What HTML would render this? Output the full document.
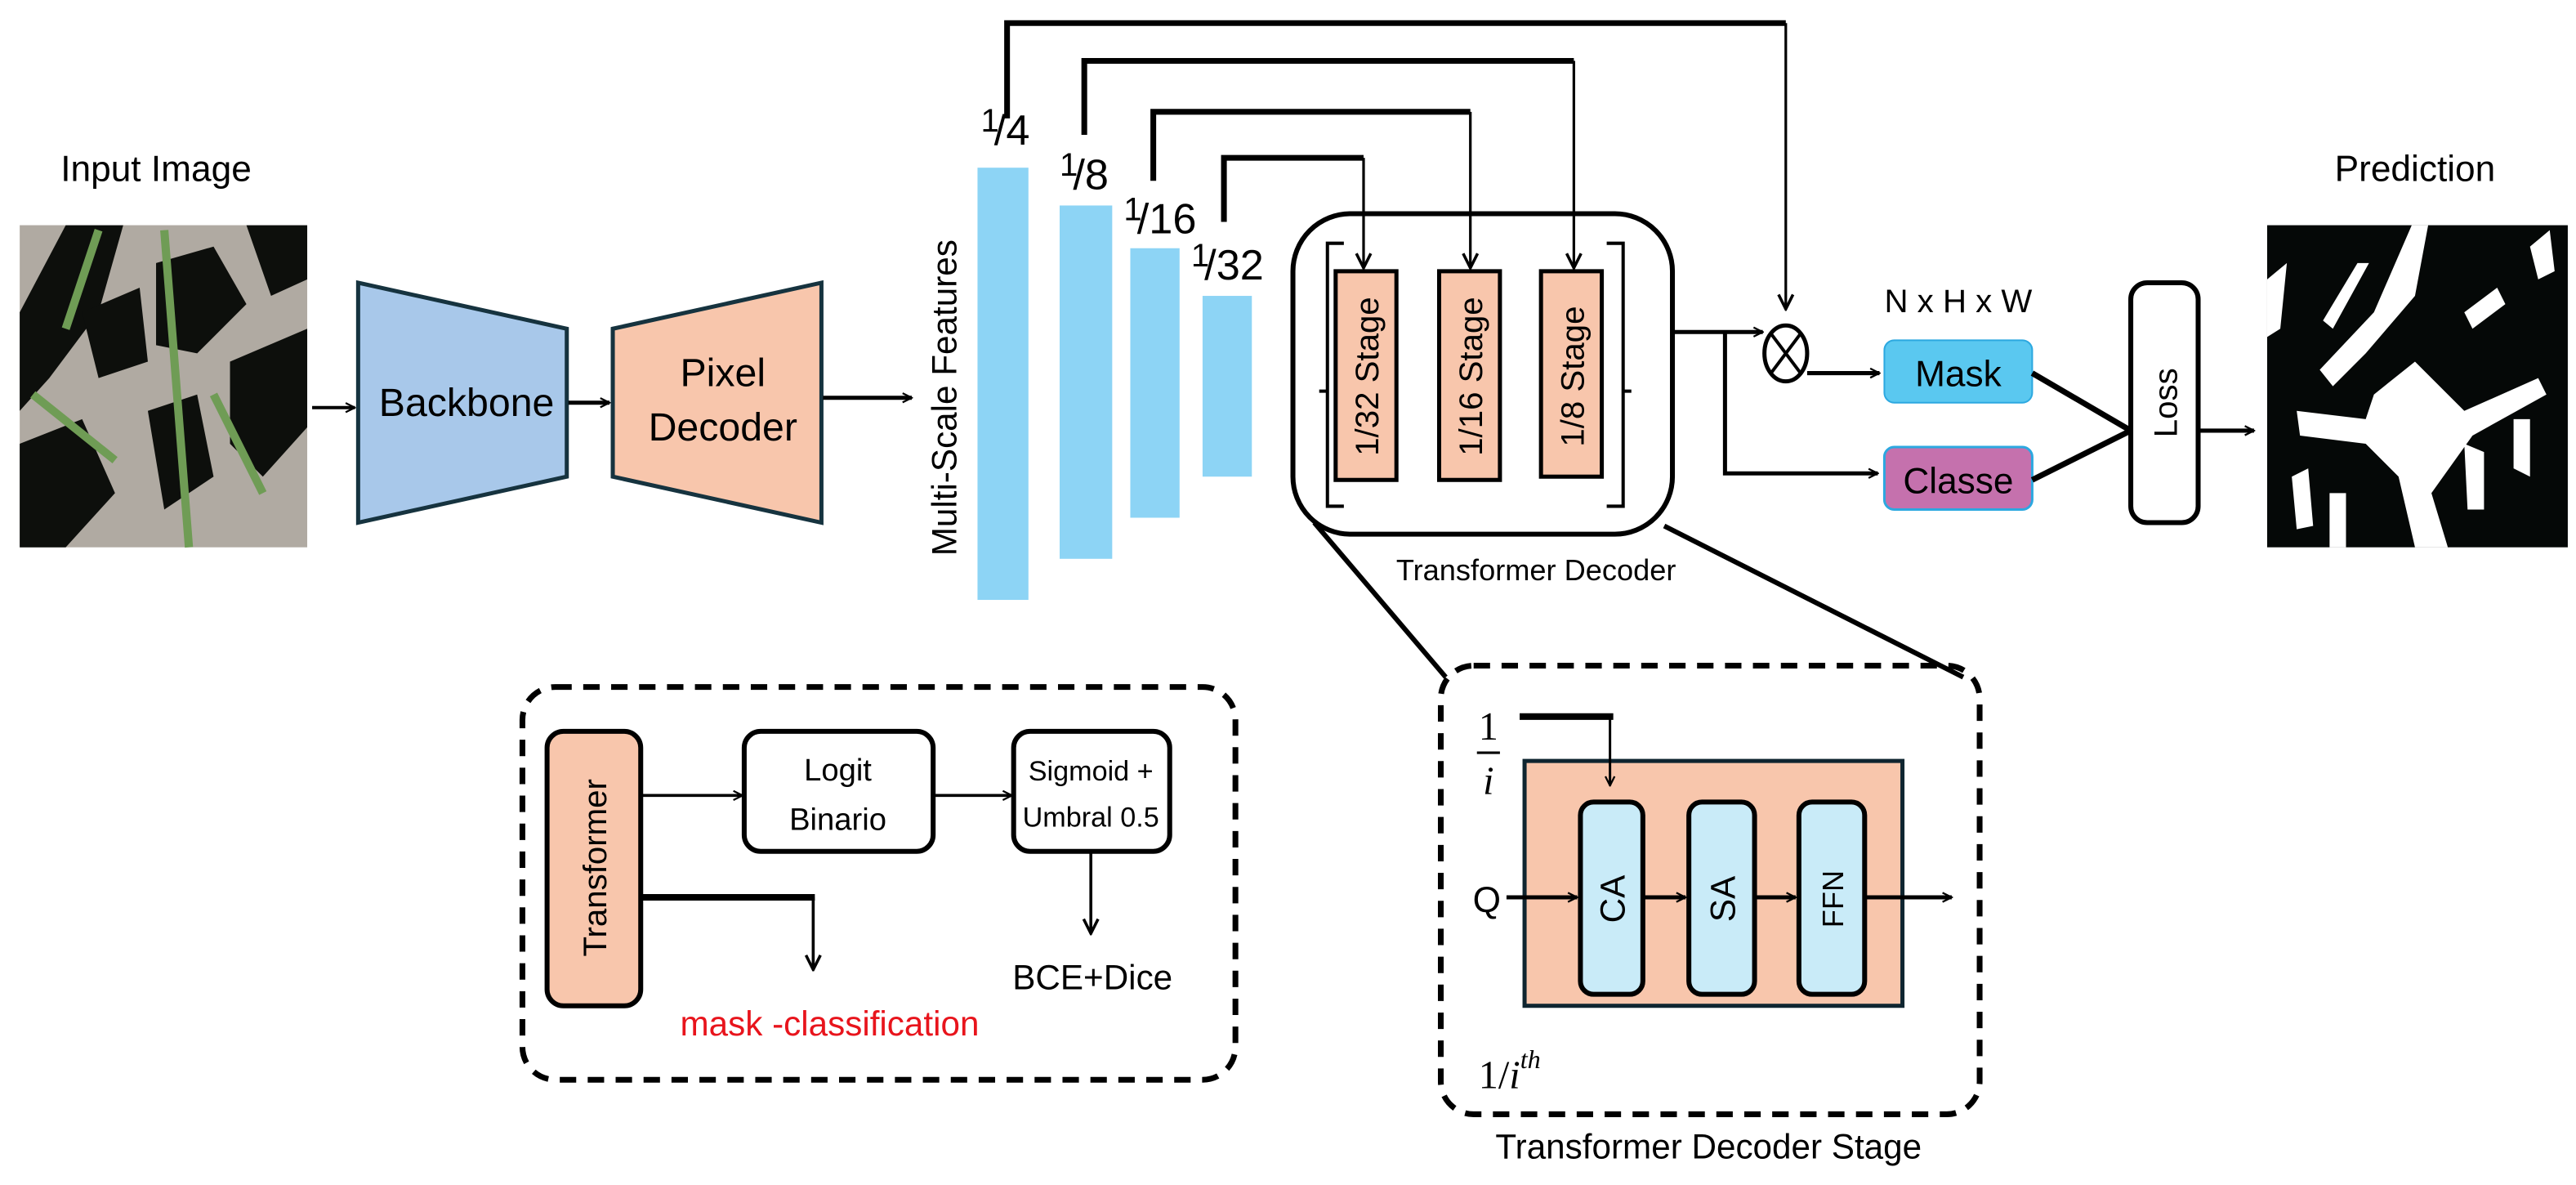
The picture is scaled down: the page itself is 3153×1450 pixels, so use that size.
<!DOCTYPE html>
<html><head><meta charset="utf-8"><style>
html,body{margin:0;padding:0;background:#fff;}
svg{display:block;}
text{font-family:"Liberation Sans Narrow","Liberation Sans",sans-serif;fill:#000;}
.w{font-family:"Liberation Sans",sans-serif;}
</style></head><body>
<svg width="3153" height="1450" viewBox="0 0 1568 721" xmlns="http://www.w3.org/2000/svg">
<defs>
<marker id="a" viewBox="0 0 10 10" refX="9" refY="5" markerWidth="7" markerHeight="7" orient="auto-start-reverse" markerUnits="userSpaceOnUse"><path d="M1,1 L9,5 L1,9" fill="none" stroke="#000" stroke-width="1.6"/></marker>
<marker id="b" viewBox="0 0 10 10" refX="9" refY="5" markerWidth="11" markerHeight="11" orient="auto-start-reverse" markerUnits="userSpaceOnUse"><path d="M1,1 L9,5 L1,9" fill="none" stroke="#000" stroke-width="1.6"/></marker>
</defs>

<!-- Input image -->
<text x="95" y="110" font-size="22" text-anchor="middle">Input Image</text>
<rect x="12" y="137" width="175" height="196" fill="#b0aaa2"/>
<g fill="#0d0f0c">
<path d="M40,137 L75,137 L60,190 L30,230 L12,250 L12,190 Z"/>
<path d="M95,160 L130,150 L150,185 L120,215 L95,210 Z"/>
<path d="M140,220 L187,200 L187,260 L160,290 L140,270 Z"/>
<path d="M12,270 L50,255 L70,300 L40,333 L12,333 Z"/>
<path d="M90,250 L120,240 L130,290 L100,310 Z"/>
<path d="M150,137 L187,137 L187,170 L165,180 Z"/>
<path d="M50,190 L85,175 L90,220 L60,230 Z"/>
</g>
<g stroke="#6f9c55" stroke-width="5" fill="none">
<path d="M100,140 L115,333"/><path d="M20,240 L70,280"/><path d="M130,240 L160,300"/><path d="M60,140 L40,200"/>
</g>

<!-- Backbone -->
<path d="M218,172 L345,200 L345,290 L218,318 Z" fill="#a8c8ea" stroke="#16333f" stroke-width="2.5"/>
<text x="284" y="253" font-size="24" text-anchor="middle">Backbone</text>
<path d="M373,200 L500,172 L500,318 L373,290 Z" fill="#f8c6ac" stroke="#16333f" stroke-width="2.5"/>
<text x="440" y="235" font-size="24" text-anchor="middle">Pixel</text>
<text x="440" y="268" font-size="24" text-anchor="middle">Decoder</text>
<line x1="190" y1="248" x2="216" y2="248" stroke="#000" stroke-width="2" marker-end="url(#a)"/>
<line x1="346" y1="245" x2="371" y2="245" stroke="#000" stroke-width="2.5" marker-end="url(#a)"/>
<line x1="501" y1="242" x2="555" y2="242" stroke="#000" stroke-width="2.5" marker-end="url(#a)"/>

<!-- Multi-scale -->
<text class="w" transform="translate(582,242) rotate(-90)" font-size="21" text-anchor="middle">Multi-Scale Features</text>
<rect x="595" y="102" width="31" height="263" fill="#8dd4f5"/>
<rect x="645" y="125" width="32" height="215" fill="#8dd4f5"/>
<rect x="688" y="151" width="30" height="164" fill="#8dd4f5"/>
<rect x="732" y="180" width="30" height="110" fill="#8dd4f5"/>
<text x="597" y="88" font-size="26"><tspan font-size="20" dy="-8">1</tspan><tspan dy="8" dx="-3">/4</tspan></text>
<text x="645" y="115" font-size="26"><tspan font-size="20" dy="-8">1</tspan><tspan dy="8" dx="-3">/8</tspan></text>
<text x="684" y="142" font-size="26"><tspan font-size="20" dy="-8">1</tspan><tspan dy="8" dx="-3">/16</tspan></text>
<text x="725" y="170" font-size="26"><tspan font-size="20" dy="-8">1</tspan><tspan dy="8" dx="-3">/32</tspan></text>

<!-- top connectors -->
<g fill="none" stroke="#000" stroke-width="3.5">
<path d="M613,72 L613,14 L1087,14"/>
<path d="M660,82 L660,37 L958,37"/>
<path d="M702,110 L702,68 L895,68"/>
<path d="M745,135 L745,96 L830,96"/>
</g>
<g stroke="#000" stroke-width="1.6" fill="none">
<line x1="1087" y1="14" x2="1087" y2="188" marker-end="url(#b)"/>
<line x1="958" y1="37" x2="958" y2="163" marker-end="url(#b)"/>
<line x1="895" y1="68" x2="895" y2="163" marker-end="url(#b)"/>
<line x1="830" y1="96" x2="830" y2="163" marker-end="url(#b)"/>
</g>

<!-- Transformer decoder -->
<rect x="787" y="130" width="231" height="195" rx="35" fill="none" stroke="#000" stroke-width="3"/>
<path d="M818,148 L808,148 L808,238 L803,238 M808,238 L808,308 L818,308" fill="none" stroke="#000" stroke-width="2"/>
<path d="M978,148 L988,148 L988,238 L993,238 M988,238 L988,308 L978,308" fill="none" stroke="#000" stroke-width="2"/>
<rect x="813" y="165" width="37" height="127" fill="#f8c6ac" stroke="#000" stroke-width="2.5"/>
<rect x="876" y="165" width="37" height="127" fill="#f8c6ac" stroke="#000" stroke-width="2.5"/>
<rect x="938" y="165" width="37" height="125" fill="#f8c6ac" stroke="#000" stroke-width="2.5"/>
<text class="w" transform="translate(839,229) rotate(-90)" font-size="20" text-anchor="middle">1/32 Stage</text>
<text class="w" transform="translate(902,229) rotate(-90)" font-size="20" text-anchor="middle">1/16 Stage</text>
<text class="w" transform="translate(964,229) rotate(-90)" font-size="20" text-anchor="middle">1/8 Stage</text>
<text x="935" y="353" font-size="18" text-anchor="middle">Transformer Decoder</text>
<line x1="800" y1="318" x2="880" y2="412" stroke="#000" stroke-width="3"/>
<line x1="1013" y1="320" x2="1195" y2="412" stroke="#000" stroke-width="3"/>

<!-- outputs -->
<g stroke="#000" stroke-width="2.5" fill="none">
<line x1="1018" y1="202" x2="1073" y2="202" marker-end="url(#a)"/>
<path d="M1050,202 L1050,288 L1143,288" marker-end="url(#a)"/>
<line x1="1100" y1="227" x2="1144" y2="227" marker-end="url(#a)"/>
</g>
<ellipse cx="1087" cy="215" rx="13" ry="17" fill="#fff" stroke="#000" stroke-width="2.5"/>
<path d="M1078,203 L1096,227 M1096,203 L1078,227" stroke="#000" stroke-width="2"/>
<text x="1192" y="190" font-size="20" text-anchor="middle">N x H x W</text>
<rect x="1147" y="207" width="90" height="38" rx="6" fill="#5ac8f0" stroke="#2ca8e0" stroke-width="1"/>
<text x="1192" y="235" font-size="22" text-anchor="middle">Mask</text>
<rect x="1147" y="272" width="90" height="38" rx="6" fill="#c571ad" stroke="#2ca8e0" stroke-width="1.5"/>
<text x="1192" y="300" font-size="22" text-anchor="middle">Classe</text>
<path d="M1237,227 L1297,262 L1237,292" fill="none" stroke="#000" stroke-width="3.5"/>
<rect x="1297" y="172" width="41" height="146" rx="10" fill="#fff" stroke="#000" stroke-width="3"/>
<text class="w" transform="translate(1325,245) rotate(-90)" font-size="20" text-anchor="middle">Loss</text>
<line x1="1338" y1="262" x2="1372" y2="262" stroke="#000" stroke-width="2.5" marker-end="url(#a)"/>

<!-- Prediction -->
<text x="1470" y="110" font-size="22" text-anchor="middle">Prediction</text>
<rect x="1380" y="137" width="183" height="196" fill="#050807"/>
<g fill="#fff">
<path d="M1468,137 L1478,137 L1470,180 L1440,215 L1420,235 L1412,225 L1445,190 Z"/>
<path d="M1435,160 L1442,160 L1420,200 L1414,195 Z"/>
<path d="M1380,170 L1392,160 L1388,200 L1380,205 Z"/>
<path d="M1445,240 L1470,220 L1500,250 L1545,230 L1550,240 L1505,265 L1480,300 L1490,333 L1470,333 L1460,290 L1440,270 L1400,265 L1398,250 L1440,255 Z"/>
<path d="M1500,190 L1520,175 L1525,185 L1505,200 Z"/>
<path d="M1540,150 L1552,140 L1555,165 L1545,170 Z"/>
<path d="M1395,290 L1405,285 L1408,320 L1398,322 Z"/>
<path d="M1500,270 L1512,275 L1512,310 L1502,310 Z"/>
<path d="M1530,255 L1540,255 L1540,290 L1530,285 Z"/>
<path d="M1418,300 L1428,300 L1428,333 L1418,333 Z"/>
</g>

<!-- Bottom-left dashed box -->
<rect x="318" y="418" width="434" height="239" rx="20" fill="none" stroke="#000" stroke-width="3.5" stroke-dasharray="10,7"/>
<rect x="333" y="445" width="57" height="167" rx="10" fill="#f8c6ac" stroke="#000" stroke-width="3"/>
<text class="w" transform="translate(369,528) rotate(-90)" font-size="20" text-anchor="middle">Transformer</text>
<rect x="453" y="445" width="115" height="73" rx="10" fill="#fff" stroke="#000" stroke-width="3"/>
<text x="510" y="475" font-size="19" text-anchor="middle">Logit</text>
<text x="510" y="505" font-size="19" text-anchor="middle">Binario</text>
<rect x="617" y="445" width="95" height="73" rx="10" fill="#fff" stroke="#000" stroke-width="3"/>
<text x="664" y="475" font-size="17" text-anchor="middle">Sigmoid +</text>
<text x="664" y="503" font-size="17" text-anchor="middle">Umbral 0.5</text>
<g stroke="#000" stroke-width="1.8" fill="none">
<line x1="390" y1="484" x2="452" y2="484" marker-end="url(#a)"/>
<line x1="568" y1="484" x2="616" y2="484" marker-end="url(#a)"/>
<line x1="664" y1="518" x2="664" y2="568" marker-end="url(#b)"/>
<line x1="495" y1="546" x2="495" y2="590" marker-end="url(#b)"/>
</g>
<line x1="390" y1="546" x2="496" y2="546" stroke="#000" stroke-width="4"/>
<text x="665" y="602" font-size="21" text-anchor="middle">BCE+Dice</text>
<text x="505" y="630" font-size="21" text-anchor="middle" style="fill:#e8141c">mask -classification</text>

<!-- Bottom-right dashed box -->
<rect x="877" y="405" width="328" height="273" rx="20" fill="none" stroke="#000" stroke-width="3.5" stroke-dasharray="10,7"/>
<text x="906" y="450" font-size="24" text-anchor="middle" style="font-family:'Liberation Serif',serif">1</text>
<line x1="899" y1="458" x2="913" y2="458" stroke="#000" stroke-width="1.5"/>
<text x="906" y="483" font-size="24" text-anchor="middle" font-style="italic" style="font-family:'Liberation Serif',serif">i</text>
<rect x="928" y="463" width="230" height="149" fill="#f8c6ac" stroke="#0f2530" stroke-width="2.5"/>
<line x1="925" y1="436" x2="982" y2="436" stroke="#000" stroke-width="4"/>
<line x1="980" y1="436" x2="980" y2="478" stroke="#000" stroke-width="1.5" marker-end="url(#a)"/>
<rect x="962" y="488" width="38" height="117" rx="8" fill="#c9ebf8" stroke="#000" stroke-width="3"/>
<rect x="1028" y="488" width="40" height="117" rx="8" fill="#c9ebf8" stroke="#000" stroke-width="3"/>
<rect x="1095" y="488" width="40" height="117" rx="8" fill="#c9ebf8" stroke="#000" stroke-width="3"/>
<text class="w" transform="translate(989,547) rotate(-90)" font-size="21" text-anchor="middle">CA</text>
<text class="w" transform="translate(1056,547) rotate(-90)" font-size="21" text-anchor="middle">SA</text>
<text class="w" transform="translate(1122,547) rotate(-90)" font-size="18" text-anchor="middle">FFN</text>
<text x="905" y="555" font-size="22" text-anchor="middle">Q</text>
<g stroke="#000" stroke-width="2.5" fill="none">
<line x1="917" y1="546" x2="960" y2="546" marker-end="url(#a)"/>
<line x1="1000" y1="546" x2="1026" y2="546" marker-end="url(#a)"/>
<line x1="1068" y1="546" x2="1093" y2="546" marker-end="url(#a)"/>
<line x1="1135" y1="546" x2="1188" y2="546" marker-end="url(#a)"/>
</g>
<text x="900" y="662" font-size="24" style="font-family:'Liberation Serif',serif">1/<tspan font-style="italic">i</tspan><tspan font-style="italic" font-size="16" dy="-12">th</tspan></text>
<text x="1040" y="705" font-size="21" text-anchor="middle">Transformer Decoder Stage</text>
</svg>
</body></html>
